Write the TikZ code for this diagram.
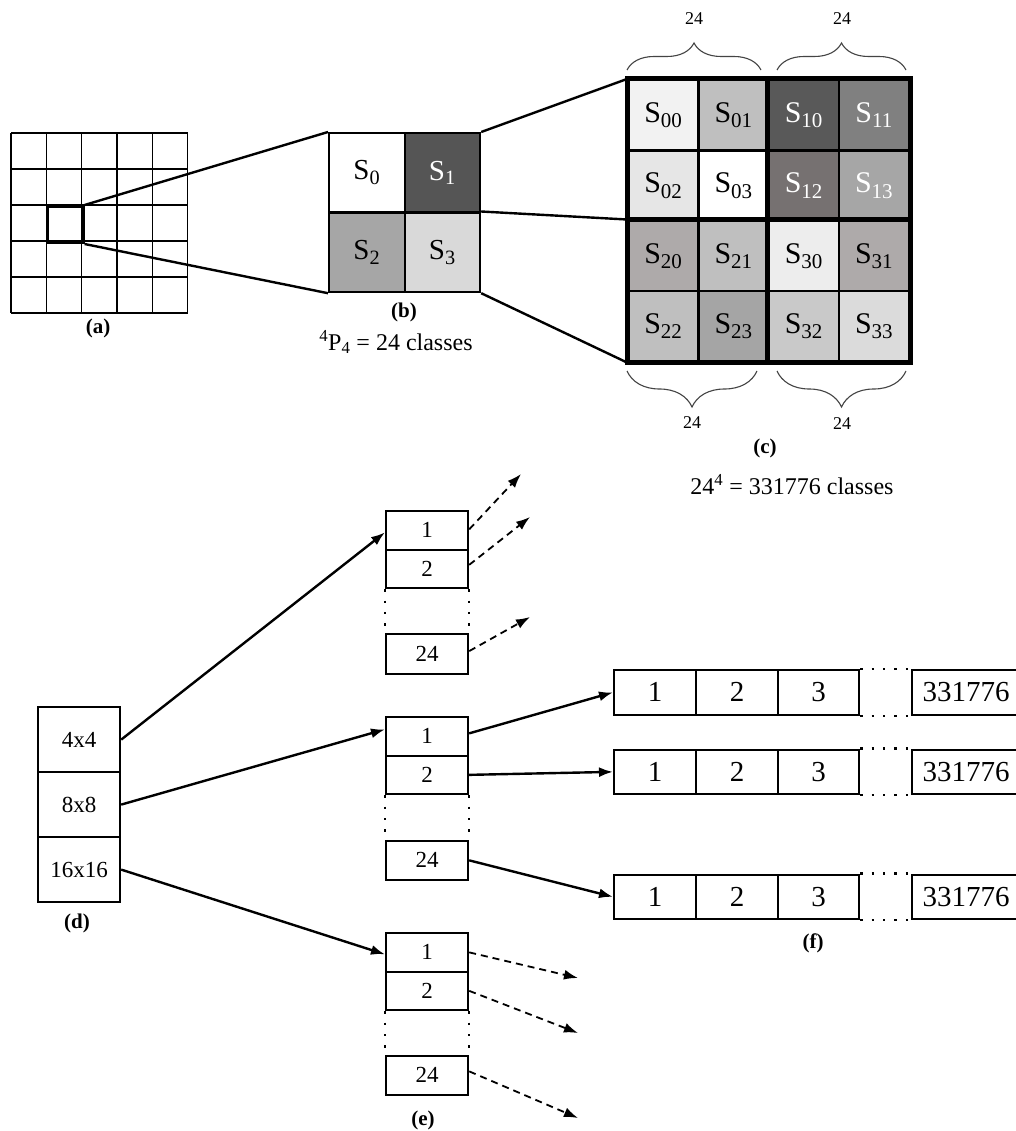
\documentclass[tikz,border=0pt]{standalone}
\usepackage{fontspec}
\setmainfont{Liberation Serif}
\usetikzlibrary{arrows.meta,decorations.pathreplacing}
\newcommand\Sx[1]{S\textsubscript{#1}}
\definecolor{g00}{HTML}{F2F2F2}
\definecolor{g01}{HTML}{BFBFBF}
\definecolor{g10}{HTML}{595959}
\definecolor{g11}{HTML}{808080}
\definecolor{g02}{HTML}{E6E6E6}
\definecolor{g12}{HTML}{767171}
\definecolor{g13}{HTML}{A6A6A6}
\definecolor{g20}{HTML}{AEAAAA}
\definecolor{g30}{HTML}{EDEDED}
\definecolor{g23}{HTML}{A5A5A5}
\definecolor{g32}{HTML}{C9C9C9}
\definecolor{g33}{HTML}{DBDBDB}
\definecolor{bS1}{HTML}{555555}
\definecolor{bS2}{HTML}{A6A6A6}
\definecolor{bS3}{HTML}{D9D9D9}
\definecolor{bracecol}{HTML}{444444}
\begin{document}
\begin{tikzpicture}[x=1pt,y=-1pt,
  cellb/.style={draw,line width=2.2pt,minimum width=75.5pt,minimum height=79.5pt,inner sep=0pt,anchor=north west,font=\fontsize{29}{33}\selectfont},
  ccell/.style={draw,line width=2.5pt,minimum width=70.25pt,minimum height=70.25pt,inner sep=0pt,anchor=north west,font=\fontsize{30}{34}\selectfont},
  dbox/.style={draw,line width=2.2pt,minimum width=82pt,minimum height=65pt,inner sep=0pt,anchor=north west,font=\fontsize{23}{27}\selectfont},
  ebox/.style={draw,line width=2.2pt,minimum width=82pt,minimum height=38.5pt,inner sep=0pt,anchor=north west,font=\fontsize{23}{26}\selectfont},
  fcell/.style={draw,line width=2.2pt,minimum width=82pt,minimum height=44.5pt,inner sep=0pt,anchor=north west,font=\fontsize{29}{33}\selectfont},
  lab/.style={font=\fontsize{21}{25}\selectfont\bfseries},
  txt/.style={font=\fontsize{24}{28}\selectfont},
  small/.style={font=\fontsize{18}{21}\selectfont},
  dotline/.style={line width=2.4pt,dash pattern=on 2.4pt off 9pt},
  conn/.style={line width=2.4pt},
  arr/.style={line width=2.4pt,-{Latex[length=14pt,width=10pt]}},
  darr/.style={line width=1.8pt,dash pattern=on 7pt off 5pt,-{Latex[length=14pt,width=10pt]}},
  brc/.style={draw=bracecol,line width=1.1pt,decorate}
]
\useasboundingbox (0,0) rectangle (1016,1131);
\fill[white] (0,0) rectangle (1016,1131);

% ---------- (a) grid ----------
\foreach \i in {0,...,5}{
  \draw[line width=1.4pt] ({11+35.3*\i},133) -- ({11+35.3*\i},313);
  \draw[line width=1.4pt] (11,{133+36*\i}) -- (187.5,{133+36*\i});
}
\node[draw,line width=3pt,minimum width=35.3pt,minimum height=36pt,inner sep=0pt,anchor=north west] (acell) at (46.3,205) {};
\node[lab] (la) at (98,328) {(a)};

% ---------- (b) ----------
\node[cellb,fill=white] (b0) at (328,132) {\Sx{0}};
\node[cellb,fill=bS1,text=white] (b1) at (403.5,132) {\Sx{1}};
\node[cellb,fill=bS2] (b2) at (328,211.5) {\Sx{2}};
\node[cellb,fill=bS3] (b3) at (403.5,211.5) {\Sx{3}};
\node[lab] (lb) at (404,312) {(b)};
\node[txt] (tb) at (396,342) {\textsuperscript{4}P\textsubscript{4} = 24 classes};

\draw[conn] (acell.north east) -- (b0.north west);
\draw[conn] (acell.south east) -- (b2.south west);

% ---------- (c) ----------
\node[ccell,fill=g00] (c00) at (627,79) {\Sx{00}};
\node[ccell,fill=g01] (c01) at (697.25,79) {\Sx{01}};
\node[ccell,fill=g10,text=white] (c10) at (767.5,79) {\Sx{10}};
\node[ccell,fill=g11,text=white] (c11) at (837.75,79) {\Sx{11}};
\node[ccell,fill=g02] (c02) at (627,149.25) {\Sx{02}};
\node[ccell,fill=white] (c03) at (697.25,149.25) {\Sx{03}};
\node[ccell,fill=g12,text=white] (c12) at (767.5,149.25) {\Sx{12}};
\node[ccell,fill=g13,text=white] (c13) at (837.75,149.25) {\Sx{13}};
\node[ccell,fill=g20] (c20) at (627,219.5) {\Sx{20}};
\node[ccell,fill=g01] (c21) at (697.25,219.5) {\Sx{21}};
\node[ccell,fill=g30] (c30) at (767.5,219.5) {\Sx{30}};
\node[ccell,fill=g20] (c31) at (837.75,219.5) {\Sx{31}};
\node[ccell,fill=g01] (c22) at (627,289.75) {\Sx{22}};
\node[ccell,fill=g23] (c23) at (697.25,289.75) {\Sx{23}};
\node[ccell,fill=g32] (c32) at (767.5,289.75) {\Sx{32}};
\node[ccell,fill=g33] (c33) at (837.75,289.75) {\Sx{33}};
\draw[line width=5pt] (c00.north west) rectangle (c33.south east);
\draw[line width=4.5pt] (c10.north west) -- (c32.south west);
\draw[line width=4.5pt] (c20.north west) -- (c31.north east);

\draw[conn] (b1.north east) -- (c00.north west);
\draw[conn] (b3.north east) -- (c20.north west);
\draw[conn] (b3.south east) -- (c22.south west);

\draw[brc,decoration={brace,amplitude=27pt}] (627,70) -- (761,70);
\draw[brc,decoration={brace,amplitude=27pt}] (777,70) -- (906,70);
\draw[brc,decoration={brace,amplitude=36pt}] (757,371) -- (627,371);
\draw[brc,decoration={brace,amplitude=36pt}] (906,371) -- (777,371);
\node[small] (t1) at (694,19) {24};
\node[small] (t2) at (842,19) {24};
\node[small] (t3) at (692,423) {24};
\node[small] (t4) at (842,424) {24};
\node[lab] (lc) at (765,448) {(c)};
\node[txt] (tc) at (792,485) {24\textsuperscript{4} = 331776 classes};

% ---------- (d) ----------
\node[dbox] (d1) at (37,706) {4x4};
\node[dbox] (d2) at (37,771) {8x8};
\node[dbox] (d3) at (37,836) {16x16};
\node[lab] (ld) at (77,923) {(d)};

% ---------- (e) ----------
\node[ebox] (e11) at (385,510) {1};
\node[ebox] (e12) at (385,548.5) {2};
\node[ebox,minimum height=40pt] (e1n) at (385,633) {24};
\draw[dotline] (e12.south west) -- (e1n.north west);
\draw[dotline] (e12.south east) -- (e1n.north east);

\node[ebox] (e21) at (385,716) {1};
\node[ebox] (e22) at (385,754.5) {2};
\node[ebox] (e2n) at (385,840) {24};
\draw[dotline] (e22.south west) -- (e2n.north west);
\draw[dotline] (e22.south east) -- (e2n.north east);

\node[ebox] (e31) at (385,932) {1};
\node[ebox] (e32) at (385,970.5) {2};
\node[ebox] (e3n) at (385,1055) {24};
\draw[dotline] (e32.south west) -- (e3n.north west);
\draw[dotline] (e32.south east) -- (e3n.north east);
\node[lab] (le) at (423,1120) {(e)};

\draw[arr] (d1.east) -- ([yshift=-2pt]e11.west);
\draw[arr] (d2.east) -- ([yshift=7pt]e21.west);
\draw[arr] (d3.east) -- ([yshift=-2pt]e31.west);

\coordinate (x11) at (521,474);
\coordinate (x12) at (530,517);
\coordinate (x1n) at (530,617);
\draw[darr] ([yshift=1pt]e11.east) -- (x11);
\draw[darr] ([yshift=4pt]e12.east) -- (x12);
\draw[darr] ([yshift=3pt]e1n.east) -- (x1n);

\coordinate (x31) at (578,978);
\coordinate (x32) at (578,1033);
\coordinate (x3n) at (578,1118);
\draw[darr] (e31.east) -- (x31);
\draw[darr] ([yshift=0pt]e32.east) -- (x32);
\draw[darr] ([yshift=4pt]e3n.east) -- (x3n);

% ---------- (f) ----------
\foreach \r/\y in {1/669,2/748.5,3/873.5}{
  \node[fcell] (f\r a) at (613,\y) {1};
  \node[fcell] (f\r b) at (695,\y) {2};
  \node[fcell,minimum width=81pt] (f\r c) at (777,\y) {3};
  \node[fcell,minimum width=125pt,text width=110pt,align=left] (f\r n) at (911,\y) {\hspace*{3pt}331776};
  \draw[dotline] (f\r c.north east) -- (f\r n.north west);
  \draw[dotline] (f\r c.south east) -- (f\r n.south west);
}
\node[lab] (lf) at (813,943) {(f)};

\draw[arr] ([yshift=3pt]e21.east) -- (f1a.west);
\draw[arr] (e22.east) -- (f2a.west);
\draw[arr] (e2n.east) -- (f3a.west);
\end{tikzpicture}
\end{document}
